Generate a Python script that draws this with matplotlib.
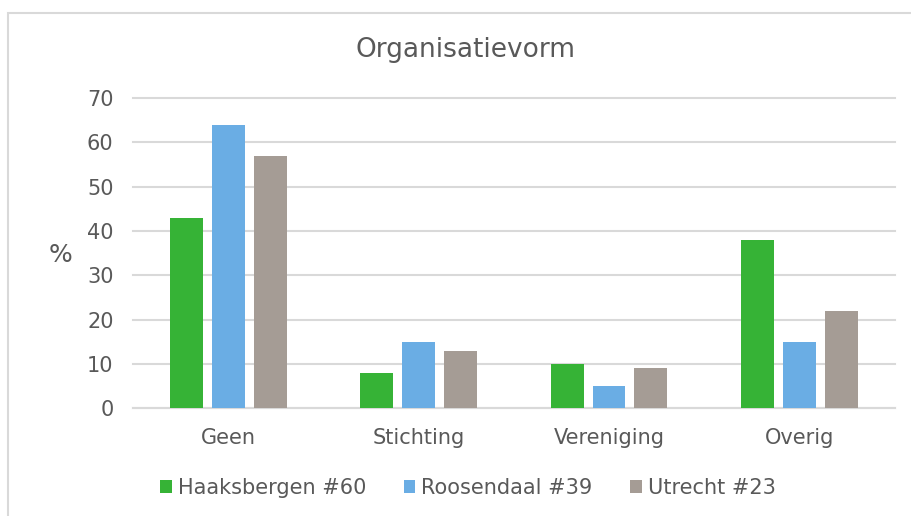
import numpy as np
import matplotlib
matplotlib.use("Agg")
import matplotlib.pyplot as plt
from matplotlib.patches import Rectangle

# data
categories = ["Geen", "Stichting", "Vereniging", "Overig"]
series = ["Haaksbergen #60", "Roosendaal #39", "Utrecht #23"]
haaksbergen = [43, 8, 10, 38]
roosendaal = [64, 15, 5, 15]
utrecht = [57, 13, 9, 22]
colors = ["#36b336", "#6aade4", "#a59c95"]

txt = "#595959"
plt.rcParams['font.family'] = ['DejaVu Sans']

fig = plt.figure(figsize=(9.11, 5.16), dpi=100)
ax = fig.add_axes([0.146, 0.209, 0.836, 0.601])

# light border around the chart area
fig.patches.append(Rectangle((8/911, -0.05), 1.2, (516-13)/516 + 0.05,
                             transform=fig.transFigure, fill=False,
                             edgecolor="#d9d9d9", linewidth=1.5))

x = np.arange(len(categories))
w = 0.173
step = w + 0.047
for i, (vals, name) in enumerate(zip([haaksbergen, roosendaal, utrecht], series)):
    ax.bar(x + (i - 1) * step, vals, width=w, color=colors[i], label=name, zorder=3)

ax.set_xlim(-0.5, 3.5)
ax.set_ylim(0, 70)
ax.set_yticks(range(0, 71, 10))
ax.set_xticks(x)
ax.set_xticklabels(categories)
ax.grid(axis='y', color="#d9d9d9", linewidth=1.5, zorder=0)
for gl in ax.get_ygridlines():
    gl.set_clip_on(False)
for s in ["top", "right", "left"]:
    ax.spines[s].set_visible(False)
ax.spines["bottom"].set_color("#d9d9d9")
ax.spines["bottom"].set_linewidth(1.5)
ax.tick_params(axis='both', length=0, labelsize=15, colors=txt)
ax.tick_params(axis='y', pad=14)
ax.tick_params(axis='x', pad=14)

fig.text(466/911, 1 - 50/516, "Organisatievorm", fontsize=19, color=txt,
         ha='center', va='center')
fig.text(60/911, 1 - 255/516, "%", fontsize=18, color=txt, ha='center', va='center')

leg = fig.legend(loc='center', bbox_to_anchor=(468/911, 1 - 488/516), ncol=3,
                 frameon=False, fontsize=15, handlelength=0.55, handleheight=0.55,
                 handletextpad=0.3, columnspacing=1.8)
for t in leg.get_texts():
    t.set_color(txt)

fig.savefig("out.png", dpi=100, facecolor="white")
